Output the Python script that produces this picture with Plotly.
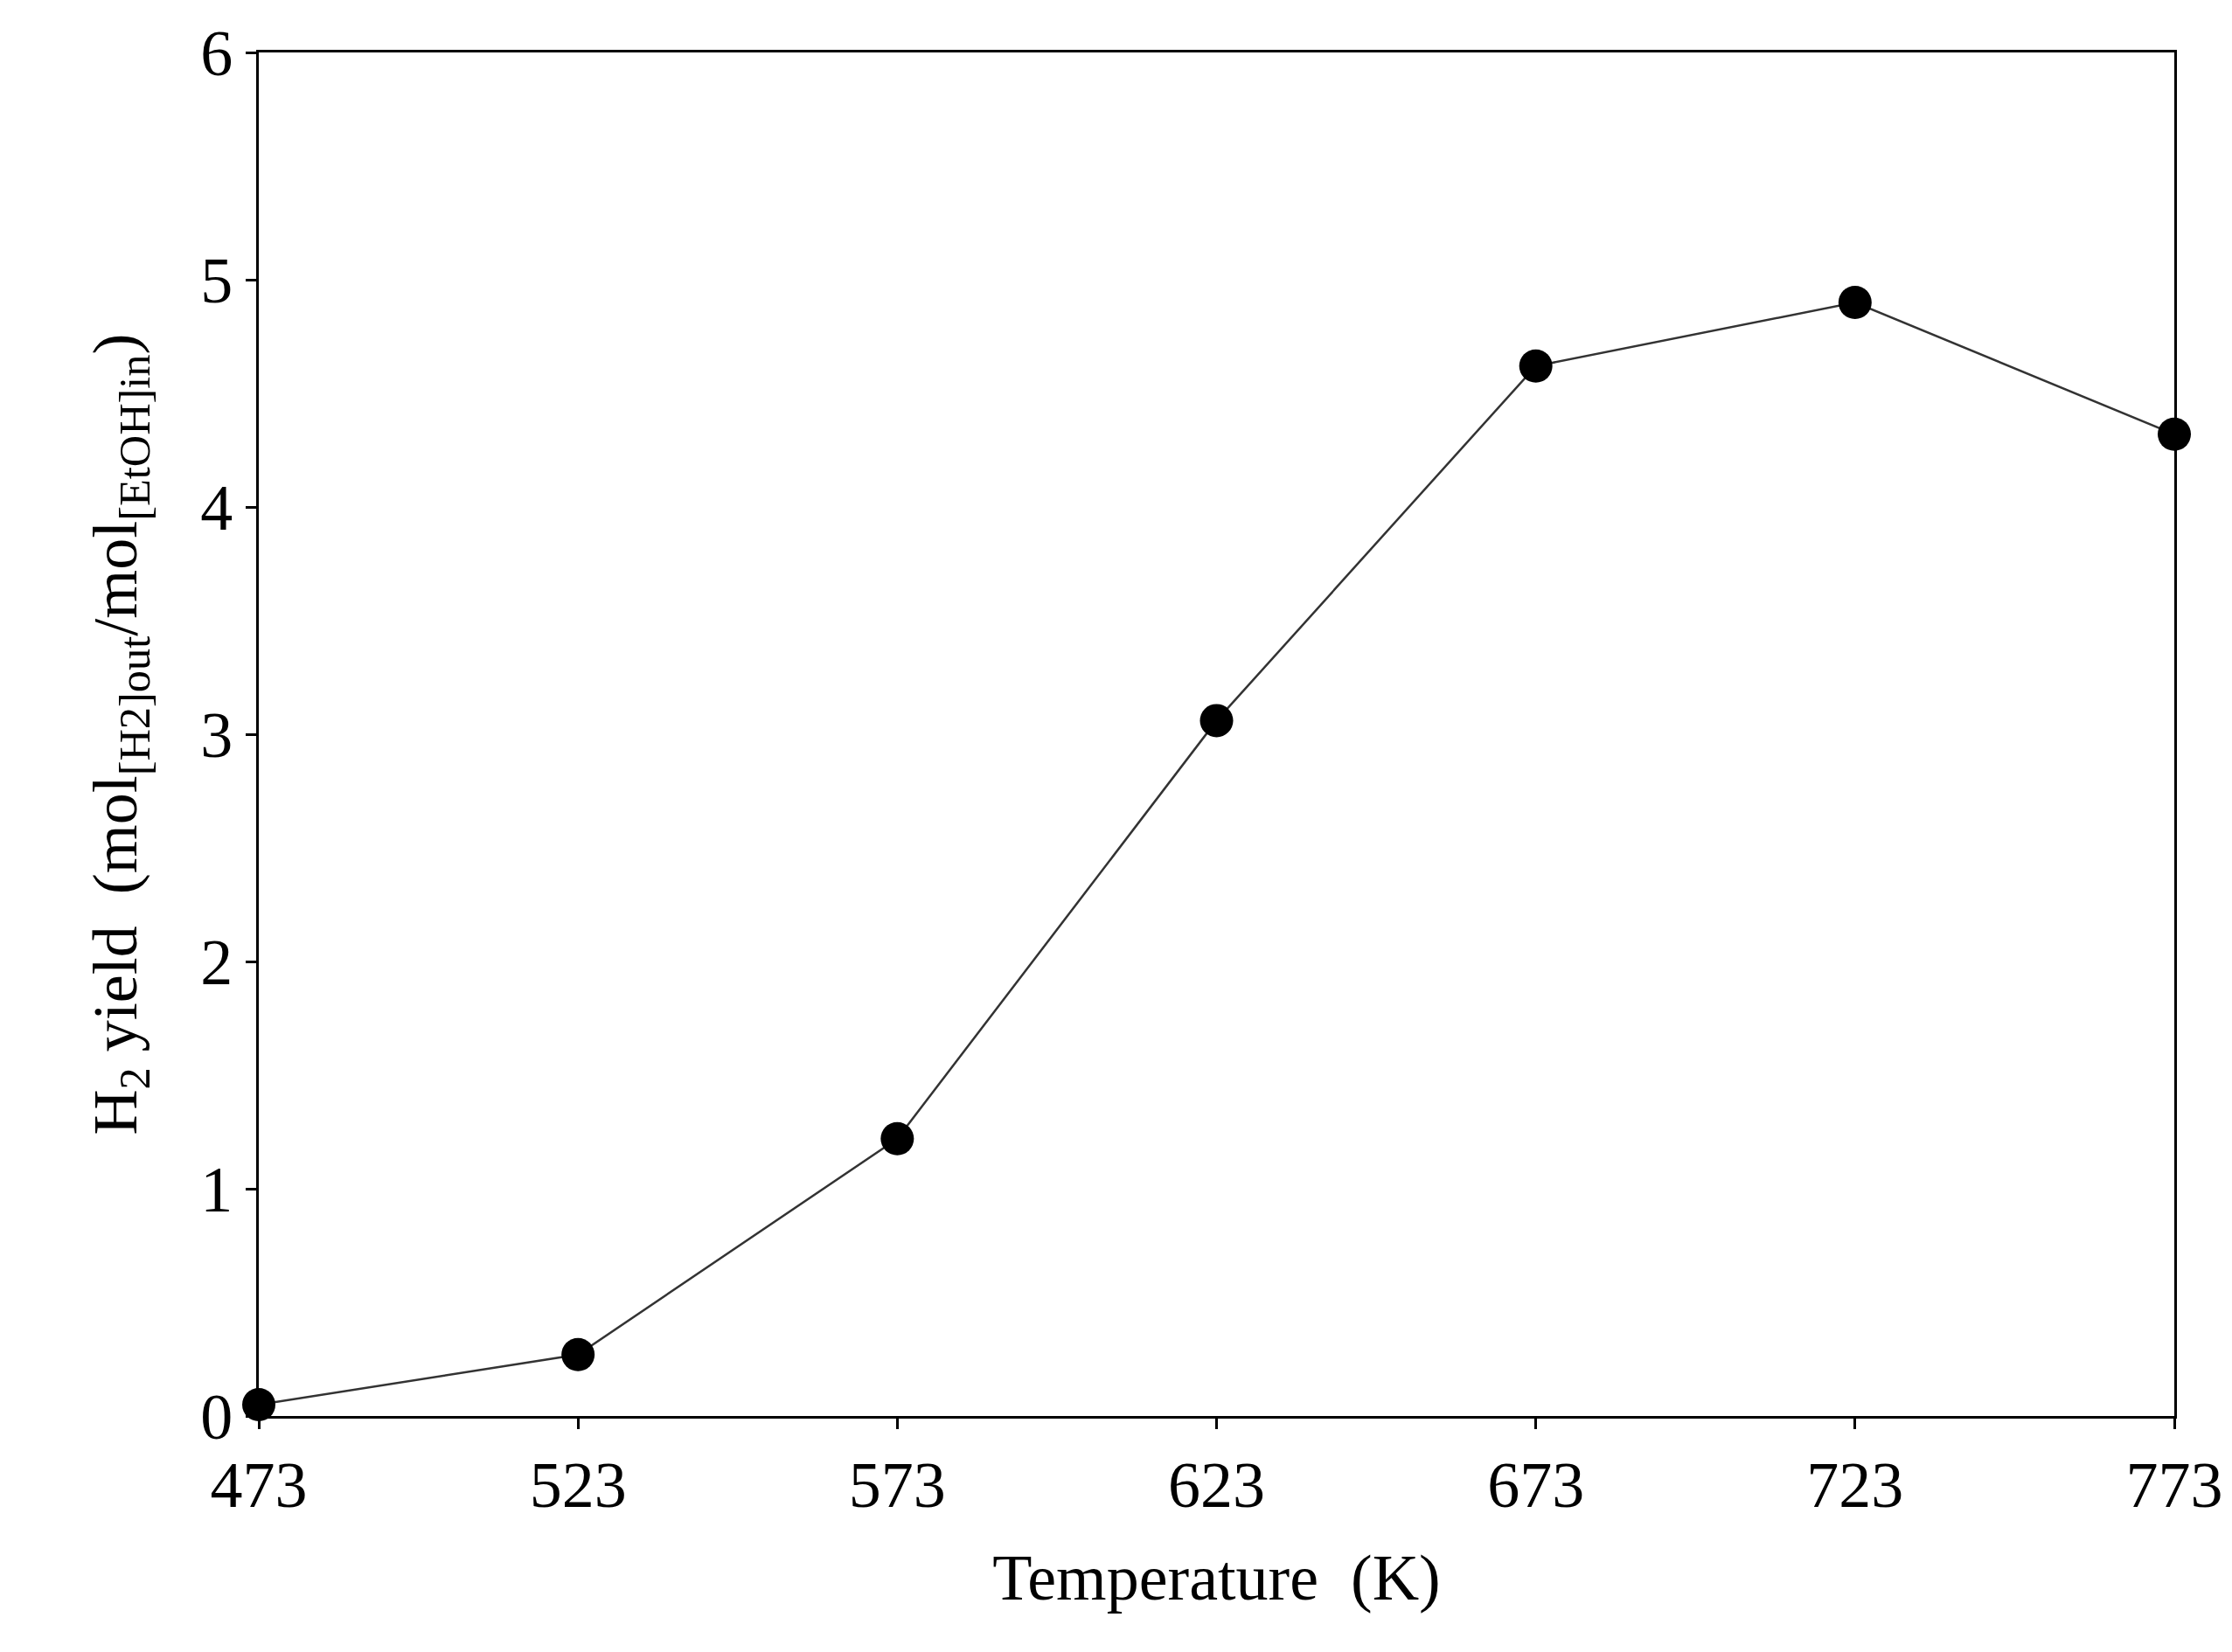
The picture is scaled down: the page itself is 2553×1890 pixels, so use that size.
import plotly.graph_objects as go

temperature = [473, 523, 573, 623, 673, 723, 773]
h2_yield = [0.05, 0.27, 1.22, 3.06, 4.62, 4.90, 4.32]
x_ticks = [473, 523, 573, 623, 673, 723, 773]
y_ticks = [0, 1, 2, 3, 4, 5, 6]

fig = go.Figure()
fig.add_trace(go.Scatter(
    x=temperature, y=h2_yield, mode="lines+markers",
    line=dict(color="#333333", width=2.5),
    marker=dict(color="black", size=38),
    cliponaxis=False, showlegend=False,
))

font = dict(family="Liberation Serif, Times New Roman, serif", color="black")
axis = dict(showline=True, linecolor="black", linewidth=3, mirror=True,
            showgrid=False, zeroline=False, ticks="outside", ticklen=12,
            tickwidth=3, tickcolor="black", tickfont=dict(size=74, **font))

fig.update_layout(
    width=2553, height=1890,
    margin=dict(l=288, r=74, t=52, b=278),
    plot_bgcolor="white", paper_bgcolor="white",
    xaxis=dict(range=[473, 773], tickvals=x_ticks, **axis,
               title=dict(text="Temperature  (K)", font=dict(size=74, **font), standoff=40)),
    yaxis=dict(range=[0, 6], tickvals=y_ticks, **axis,
               title=dict(text="H<sub>2</sub> yield  (mol<sub>[H2]out</sub>/mol<sub>[EtOH]in</sub>)",
                          font=dict(size=72, **font), standoff=50)),
)

fig.write_html("out.html")
